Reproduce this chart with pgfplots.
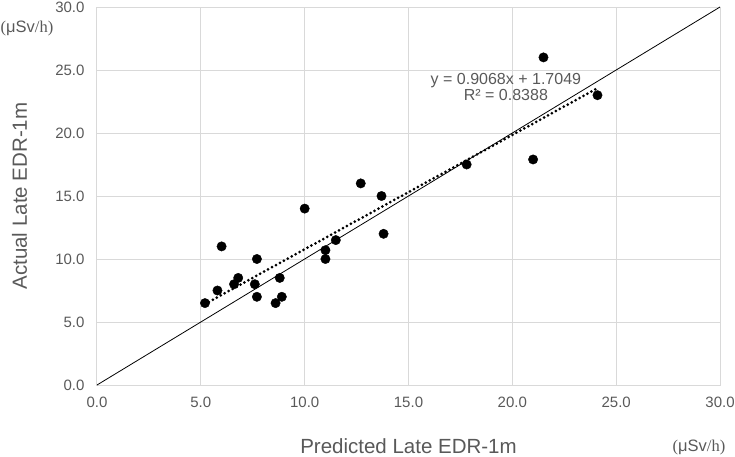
\documentclass[border=0pt]{standalone}
\usepackage{pgfplots}
\pgfplotsset{compat=1.18}
\usepackage{fontspec}
\setmainfont{Liberation Sans}
\newfontfamily\unitserif{Liberation Serif}
\definecolor{txtgray}{HTML}{595959}
\definecolor{gridgray}{HTML}{D9D9D9}

\begin{document}
\begin{tikzpicture}[x=1pt,y=1pt]
\path[use as bounding box] (0,0) rectangle (735,456);
\begin{axis}[
  at={(97pt,71pt)}, anchor=south west,
  scale only axis, width=623pt, height=378pt,
  xmin=0, xmax=30, ymin=0, ymax=30,
  xtick={0,5,10,15,20,25,30}, ytick={0,5,10,15,20,25,30},
  /pgf/number format/fixed,
  /pgf/number format/fixed zerofill,
  /pgf/number format/precision=1,
  /pgf/number format/assume math mode=true,
  grid=major,
  major grid style={draw=gridgray, line width=1pt},
  axis line style={draw=gridgray, line width=1pt},
  tick style={draw=none},
  ticklabel style={font=\fontsize{15}{18}\selectfont, text=txtgray},
  xticklabel style={yshift=-8pt},
  yticklabel style={xshift=-9pt},
  xlabel={Predicted Late EDR-1m},
  ylabel={Actual Late EDR-1m},
  xlabel style={at={(axis description cs:0.5,-0.1799)}, anchor=base,
    font=\fontsize{20.5}{24}\selectfont, text=txtgray},
  ylabel style={at={(axis description cs:-0.1124,0.5)}, anchor=base,
    font=\fontsize{20.5}{24}\selectfont, text=txtgray},
  clip=false,
]
\addplot[black, line width=0.8pt, no marks] coordinates {(0,0) (30,30)};
\addplot[black, line width=3pt, line cap=round, dash pattern=on 0pt off 4.5pt, no marks]
  coordinates {(5.2,6.420) (24.1,23.559)};
\addplot[only marks, mark=*, mark size=4.7pt, mark options={fill=black, draw=black}]
  coordinates {
  (5.2,6.5) (5.8,7.5) (6.0,11.0) (6.6,8.0) (6.8,8.5) (7.6,8.0) (7.7,10.0)
  (7.7,7.0) (8.6,6.5) (8.8,8.5) (8.9,7.0) (10.0,14.0) (11.0,10.7) (11.0,10.0)
  (11.5,11.5) (12.7,16.0) (13.7,15.0) (13.8,12.0) (17.8,17.5) (21.0,17.9)
  (21.5,26.0) (24.1,23.0)
  };
\node[align=center, text=txtgray, font=\fontsize{16}{16}\selectfont]
  at (axis cs:19.69,23.65) {y = 0.9068x + 1.7049\\R² = 0.8388};
\node[text=txtgray, font=\fontsize{16.5}{18}\selectfont]
  at (axis description cs:-0.1124,0.9444) {{\unitserif(}μSv{\unitserif/h)}};
\node[text=txtgray, font=\fontsize{16.5}{18}\selectfont]
  at (axis description cs:0.9663,-0.164) {{\unitserif(}μSv{\unitserif/h)}};
\end{axis}
\end{tikzpicture}
\end{document}
